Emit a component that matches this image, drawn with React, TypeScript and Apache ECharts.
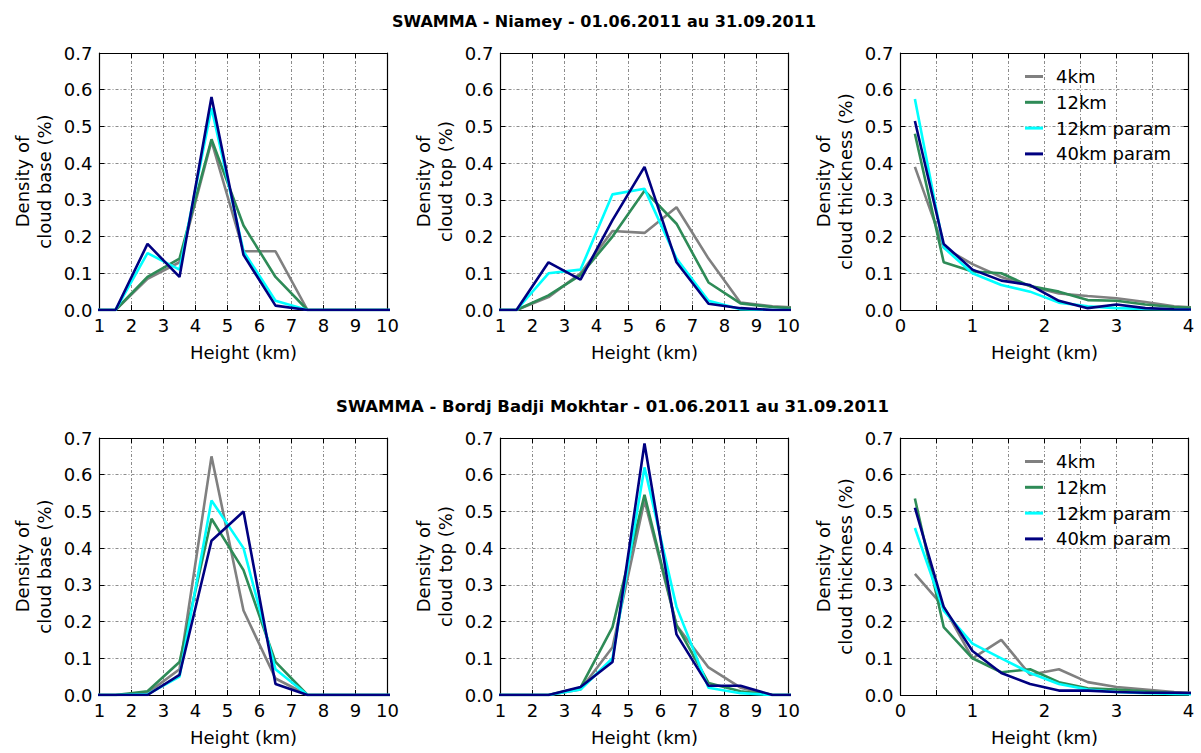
import React, { useEffect, useRef } from "react";
import * as echarts from "echarts";

// ---------- data ----------
const seriesNames = ["4km", "12km", "12km param", "40km param"];
const seriesColors = ["#808080", "#2e8b57", "#00ffff", "#000080"];

// bin centres (km)
const heightBins = [0.5, 1.5, 2.5, 3.5, 4.5, 5.5, 6.5, 7.5, 8.5, 9.5, 10.5];
const thicknessBins = [0.2, 0.6, 1.0, 1.4, 1.8, 2.2, 2.6, 3.0, 3.4, 3.8, 4.2];

// Niamey
const niameyBase4km = [0, 0, 0.085, 0.13, 0.46, 0.16, 0.16, 0, 0, 0, 0];
const niameyBase12km = [0, 0, 0.09, 0.14, 0.465, 0.23, 0.09, 0, 0, 0, 0];
const niameyBase12kmParam = [0, 0, 0.155, 0.11, 0.55, 0.16, 0.025, 0, 0, 0, 0];
const niameyBase40kmParam = [0, 0, 0.18, 0.09, 0.58, 0.15, 0.012, 0, 0, 0, 0];

const niameyTop4km = [0, 0, 0.035, 0.1, 0.215, 0.21, 0.28, 0.14, 0.02, 0.01, 0.005];
const niameyTop12km = [0, 0, 0.04, 0.095, 0.2, 0.325, 0.235, 0.075, 0.018, 0.008, 0.003];
const niameyTop12kmParam = [0, 0, 0.1, 0.11, 0.315, 0.33, 0.14, 0.025, 0.002, 0, 0];
const niameyTop40kmParam = [0, 0, 0.13, 0.083, 0.245, 0.39, 0.13, 0.017, 0.005, 0, 0];

const niameyThick4km = [0.39, 0.17, 0.125, 0.09, 0.065, 0.045, 0.038, 0.032, 0.022, 0.01, 0.005];
const niameyThick12km = [0.48, 0.13, 0.105, 0.1, 0.065, 0.05, 0.027, 0.025, 0.015, 0.008, 0.005];
const niameyThick12kmParam = [0.575, 0.17, 0.1, 0.068, 0.05, 0.02, 0.01, 0.005, 0.003, 0.002, 0.001];
const niameyThick40kmParam = [0.515, 0.18, 0.11, 0.08, 0.068, 0.025, 0.005, 0.015, 0.005, 0.002, 0.001];

// Bordj Badji Mokhtar
const bordjBase4km = [0, 0, 0.005, 0.07, 0.65, 0.23, 0.045, 0, 0, 0, 0];
const bordjBase12km = [0, 0, 0.01, 0.09, 0.48, 0.34, 0.09, 0, 0, 0, 0];
const bordjBase12kmParam = [0, 0, 0.002, 0.05, 0.53, 0.4, 0.07, 0, 0, 0, 0];
const bordjBase40kmParam = [0, 0, 0, 0.055, 0.42, 0.5, 0.03, 0, 0, 0, 0];

const bordjTop4km = [0, 0, 0, 0.015, 0.13, 0.53, 0.19, 0.075, 0.02, 0, 0];
const bordjTop12km = [0, 0, 0, 0.02, 0.185, 0.545, 0.19, 0.033, 0.01, 0, 0];
const bordjTop12kmParam = [0, 0, 0, 0.015, 0.1, 0.62, 0.24, 0.02, 0.005, 0, 0];
const bordjTop40kmParam = [0, 0, 0, 0.022, 0.09, 0.685, 0.165, 0.025, 0.025, 0, 0];

const bordjThick4km = [0.33, 0.24, 0.1, 0.15, 0.055, 0.07, 0.035, 0.022, 0.015, 0.008, 0.005];
const bordjThick12km = [0.535, 0.185, 0.1, 0.062, 0.07, 0.035, 0.018, 0.015, 0.01, 0.005, 0.003];
const bordjThick12kmParam = [0.455, 0.23, 0.14, 0.1, 0.06, 0.03, 0.015, 0.008, 0.005, 0.003, 0.002];
const bordjThick40kmParam = [0.51, 0.24, 0.12, 0.06, 0.03, 0.012, 0.012, 0.008, 0.006, 0.006, 0.005];

const titles = [
  "SWAMMA - Niamey - 01.06.2011 au 31.09.2011",
  "SWAMMA - Bordj Badji Mokhtar - 01.06.2011 au 31.09.2011",
];
const yNames = ["Density of\ncloud base (%)", "Density of\ncloud top (%)", "Density of\ncloud thickness (%)"];
const xName = "Height (km)";

type Panel = { bins: number[]; values: number[][]; xMin: number; xMax: number; xInterval: number };

const panels: Panel[] = [
  { bins: heightBins, values: [niameyBase4km, niameyBase12km, niameyBase12kmParam, niameyBase40kmParam], xMin: 1, xMax: 10, xInterval: 1 },
  { bins: heightBins, values: [niameyTop4km, niameyTop12km, niameyTop12kmParam, niameyTop40kmParam], xMin: 1, xMax: 10, xInterval: 1 },
  { bins: thicknessBins, values: [niameyThick4km, niameyThick12km, niameyThick12kmParam, niameyThick40kmParam], xMin: 0, xMax: 4, xInterval: 0.5 },
  { bins: heightBins, values: [bordjBase4km, bordjBase12km, bordjBase12kmParam, bordjBase40kmParam], xMin: 1, xMax: 10, xInterval: 1 },
  { bins: heightBins, values: [bordjTop4km, bordjTop12km, bordjTop12kmParam, bordjTop40kmParam], xMin: 1, xMax: 10, xInterval: 1 },
  { bins: thicknessBins, values: [bordjThick4km, bordjThick12km, bordjThick12kmParam, bordjThick40kmParam], xMin: 0, xMax: 4, xInterval: 0.5 },
];

const FONT = "DejaVu Sans";
const FS = 18;

export default function App() {
  const ref = useRef<HTMLDivElement>(null);

  useEffect(() => {
    if (!ref.current) return;
    const chart = echarts.init(ref.current, undefined, { renderer: "svg" });

    const lefts = [99.5, 500.5, 900.5];
    const tops = [53, 438];
    const W = 288;
    const H = 257;

    const grids: any[] = [];
    const xAxes: any[] = [];
    const yAxes: any[] = [];
    const series: any[] = [];

    const axisLine = { show: true, onZero: false, lineStyle: { color: "#000", width: 1.2 } };
    const tick = { show: true, inside: true, length: 5, lineStyle: { color: "#000", width: 1 } };
    const split = { show: true, lineStyle: { color: "#222", width: 0.7, type: [3, 2, 1, 2], opacity: 0.75 } };

    panels.forEach((p, i) => {
      const row = Math.floor(i / 3);
      const col = i % 3;
      grids.push({ left: lefts[col], top: tops[row], width: W, height: H, containLabel: false });
      const xFmt = (v: number) => (Math.abs(v - Math.round(v)) < 1e-9 ? String(Math.round(v)) : "");
      xAxes.push({
        type: "value",
        gridIndex: i,
        min: p.xMin,
        max: p.xMax,
        interval: p.xInterval,
        position: "bottom",
        axisLine,
        axisTick: tick,
        splitLine: split,
        axisLabel: { color: "#000", fontSize: FS, fontFamily: FONT, margin: 6, formatter: xFmt, showMinLabel: true, showMaxLabel: true },
        name: xName,
        nameLocation: "middle",
        nameGap: 33,
        nameTextStyle: { color: "#000", fontSize: FS, fontFamily: FONT },
      });
      yAxes.push({
        type: "value",
        gridIndex: i,
        min: 0,
        max: 0.7,
        interval: 0.1,
        position: "left",
        axisLine,
        axisTick: tick,
        splitLine: split,
        axisLabel: { color: "#000", fontSize: FS, fontFamily: FONT, margin: 7, formatter: (v: number) => v.toFixed(1) },
        name: yNames[col],
        nameLocation: "middle",
        nameGap: 44,
        nameTextStyle: { color: "#000", fontSize: FS, fontFamily: FONT, lineHeight: 22 },
      });
      p.values.forEach((vals, k) => {
        series.push({
          type: "line",
          name: seriesNames[k],
          xAxisIndex: i,
          yAxisIndex: i,
          data: p.bins.map((b, j) => [b, vals[j]]),
          showSymbol: false,
          symbol: "none",
          clip: true,
          lineStyle: { color: seriesColors[k], width: 2.6 },
          itemStyle: { color: seriesColors[k] },
          z: 2 + k,
        });
      });
    });

    // mirrored top/right axes for the box ticks
    panels.forEach((p, i) => {
      xAxes.push({
        type: "value",
        gridIndex: i,
        min: p.xMin,
        max: p.xMax,
        interval: p.xInterval,
        position: "top",
        axisLine,
        axisTick: tick,
        splitLine: { show: false },
        axisLabel: { show: false },
      });
      yAxes.push({
        type: "value",
        gridIndex: i,
        min: 0,
        max: 0.7,
        interval: 0.1,
        position: "right",
        axisLine,
        axisTick: tick,
        splitLine: { show: false },
        axisLabel: { show: false },
      });
    });

    const legendCommon = {
      orient: "vertical",
      left: 1020,
      icon: "rect",
      itemWidth: 18,
      itemHeight: 3,
      itemGap: 4.8,
      data: seriesNames,
      selectedMode: false,
      textStyle: { color: "#000", fontSize: FS, fontFamily: FONT, lineHeight: 21, padding: [0, 0, 0, 8] },
    };

    chart.setOption({
      animation: false,
      backgroundColor: "#fff",
      title: [
        { text: titles[0], left: 599, top: 8, textAlign: "center", textStyle: { fontFamily: FONT, fontWeight: "bold", fontSize: 16, color: "#000" } },
        { text: titles[1], left: 607.5, top: 393, textAlign: "center", textStyle: { fontFamily: FONT, fontWeight: "bold", fontSize: 16.5, color: "#000" } },
      ],
      legend: [
        { ...legendCommon, top: 61 },
        { ...legendCommon, top: 446 },
      ],
      grid: grids,
      xAxis: xAxes,
      yAxis: yAxes,
      series,
    });

    return () => chart.dispose();
  }, []);

  return (
    <div
      ref={ref}
      style={{ position: "fixed", left: 0, top: 0, width: 1201, height: 753, background: "#fff" }}
    />
  );
}
